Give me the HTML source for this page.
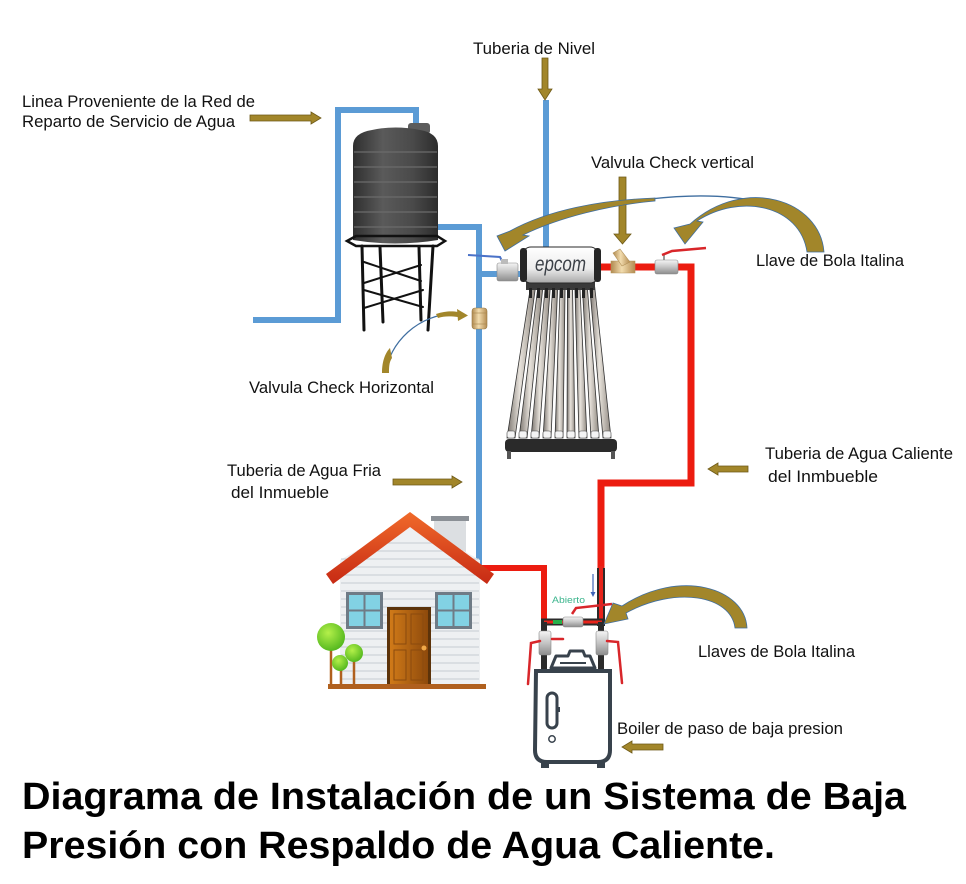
<!DOCTYPE html>
<html><head><meta charset="utf-8">
<style>
html,body{margin:0;padding:0;background:#fff;}
svg{display:block;}
text{font-family:"Liberation Sans",sans-serif;}
</style></head>
<body>
<svg width="966" height="884" viewBox="0 0 966 884" xmlns="http://www.w3.org/2000/svg">
<defs>
<linearGradient id="tg" x1="0" x2="1" y1="0" y2="0">
<stop offset="0" stop-color="#2f2f2f"/><stop offset="0.35" stop-color="#5a5a5a"/><stop offset="0.7" stop-color="#4a4a4a"/><stop offset="1" stop-color="#2c2c2c"/>
</linearGradient>
<linearGradient id="hg" x1="0" x2="0" y1="0" y2="1">
<stop offset="0" stop-color="#ffffff"/><stop offset="0.6" stop-color="#ececec"/><stop offset="1" stop-color="#a9a9a9"/>
</linearGradient>
<linearGradient id="tube" x1="0" x2="1" y1="0" y2="0">
<stop offset="0" stop-color="#77716b"/><stop offset="0.45" stop-color="#e8e3dc"/><stop offset="1" stop-color="#8e877f"/>
</linearGradient>
<linearGradient id="brass" x1="0" x2="1" y1="0" y2="0">
<stop offset="0" stop-color="#b08a50"/><stop offset="0.45" stop-color="#f2dcae"/><stop offset="1" stop-color="#b48c52"/>
</linearGradient>
<linearGradient id="silver" x1="0" x2="0" y1="0" y2="1">
<stop offset="0" stop-color="#f5f5f5"/><stop offset="0.5" stop-color="#c4c4c4"/><stop offset="1" stop-color="#8c8c8c"/>
</linearGradient>
<linearGradient id="roof" x1="0" x2="0" y1="0" y2="1">
<stop offset="0" stop-color="#f06a2a"/><stop offset="1" stop-color="#c72a14"/>
</linearGradient>
<linearGradient id="door" x1="0" x2="1" y1="0" y2="0">
<stop offset="0" stop-color="#d07a18"/><stop offset="1" stop-color="#8e4a0c"/>
</linearGradient>
<radialGradient id="tree" cx="0.4" cy="0.35" r="0.7">
<stop offset="0" stop-color="#b4f04a"/><stop offset="1" stop-color="#4fb51c"/>
</radialGradient>
</defs>
<rect width="966" height="884" fill="#fff"/>

<!-- BLUE PIPES -->
<g fill="none" stroke="#5b9bd5" stroke-width="6" stroke-linejoin="miter">
<polyline points="253,320 338,320 338,110 416,110 416,128"/>
<polyline points="435,227 479,227 479,568"/>
<line x1="479" y1="274" x2="524" y2="274"/>
<line x1="546" y1="100" x2="546" y2="250"/>
</g>

<!-- RED PIPES -->
<g fill="none" stroke="#ec1c10" stroke-width="7" stroke-linejoin="miter">
<polyline points="597,267 691,267 691,483 601,483 601,572"/>
<polyline points="479,568 544,568 544,623" stroke-width="6"/>
</g>

<!-- WATER TANK -->
<g>
<rect x="408" y="123" width="22" height="11" rx="3" fill="#5c5c5c"/>
<path d="M353,146 Q353,133 372,130 Q395,125 420,130 Q438,133 438,146 L438,240 Q395,247 353,240 Z" fill="url(#tg)"/>
<g stroke="#6b6b6b" stroke-width="1.2">
<line x1="354" y1="152" x2="437" y2="152"/><line x1="354" y1="167" x2="437" y2="167"/>
<line x1="354" y1="182" x2="437" y2="182"/><line x1="354" y1="197" x2="437" y2="197"/>
<line x1="354" y1="212" x2="437" y2="212"/><line x1="354" y1="227" x2="437" y2="227"/>
</g>
<g stroke="#111" stroke-width="3" fill="none" stroke-linecap="round">
<path d="M347,241 L356,236 L437,236 L445,241 L437,246 L356,246 Z" stroke-width="2.5"/>
<line x1="362" y1="246" x2="364" y2="330"/>
<line x1="380" y1="247" x2="383" y2="322"/>
<line x1="419" y1="247" x2="421" y2="320"/>
<line x1="433" y1="246" x2="428" y2="330"/>
<g stroke-width="2">
<line x1="364" y1="262" x2="421" y2="281"/><line x1="364" y1="283" x2="421" y2="265"/>
<line x1="364" y1="290" x2="423" y2="307"/><line x1="364" y1="308" x2="423" y2="290"/>
</g>
</g>
</g>

<!-- SOLAR HEATER -->
<g>
<g stroke="#333" stroke-width="0.8">
<polygon points="530.5,287 535.5,287 515,438 507,438" fill="url(#tube)"/>
<polygon points="537.9,287 542.9,287 527,438 519,438" fill="url(#tube)"/>
<polygon points="545.3,287 550.3,287 539,438 531,438" fill="url(#tube)"/>
<polygon points="552.7,287 557.7,287 551,438 543,438" fill="url(#tube)"/>
<polygon points="560.1,287 565.1,287 563,438 555,438" fill="url(#tube)"/>
<polygon points="567.5,287 572.5,287 575,438 567,438" fill="url(#tube)"/>
<polygon points="574.9,287 579.9,287 587,438 579,438" fill="url(#tube)"/>
<polygon points="582.3,287 587.3,287 599,438 591,438" fill="url(#tube)"/>
<polygon points="589.7,287 594.7,287 611,438 603,438" fill="url(#tube)"/>
</g>
<g fill="#f4f4f4" stroke="#444" stroke-width="0.6">
<rect x="507" y="431" width="8" height="7" rx="2"/><rect x="519" y="431" width="8" height="7" rx="2"/>
<rect x="531" y="431" width="8" height="7" rx="2"/><rect x="543" y="431" width="8" height="7" rx="2"/>
<rect x="555" y="431" width="8" height="7" rx="2"/><rect x="567" y="431" width="8" height="7" rx="2"/>
<rect x="579" y="431" width="8" height="7" rx="2"/><rect x="591" y="431" width="8" height="7" rx="2"/>
<rect x="603" y="431" width="8" height="7" rx="2"/>
</g>
<rect x="505" y="439" width="112" height="13" rx="4" fill="#2a2a2a"/>
<rect x="507" y="451" width="4" height="8" fill="#555"/>
<rect x="611" y="451" width="4" height="8" fill="#555"/>
<rect x="526" y="279" width="69" height="11" fill="#3a3a3a"/>
<g fill="#222"><rect x="529" y="288" width="3" height="10"/><rect x="537" y="288" width="3" height="10"/><rect x="545" y="288" width="3" height="10"/><rect x="552" y="288" width="3" height="10"/><rect x="560" y="288" width="3" height="10"/><rect x="567" y="288" width="3" height="10"/><rect x="575" y="288" width="3" height="10"/><rect x="582" y="288" width="3" height="10"/><rect x="590" y="288" width="3" height="10"/></g>
<rect x="522" y="247" width="77" height="36" rx="9" fill="url(#hg)" stroke="#2a2a2a" stroke-width="1"/>
<rect x="520" y="248" width="7" height="34" rx="3" fill="#262626"/>
<rect x="594" y="248" width="7" height="34" rx="3" fill="#262626"/>
<text x="535" y="271" font-size="21" font-style="italic" fill="#3b4047" textLength="51" lengthAdjust="spacingAndGlyphs">epcom</text>
</g>

<!-- VALVES NEAR HEATER -->
<g>
<polyline points="468,255 500,257 503,263" fill="none" stroke="#4a72c8" stroke-width="2"/>
<rect x="497" y="263" width="21" height="18" rx="2" fill="url(#silver)" stroke="#888" stroke-width="0.6"/>
<rect x="501" y="259" width="7" height="5" fill="#bbb"/>
<rect x="472" y="308" width="15" height="21" rx="3" fill="url(#brass)" stroke="#9a7a44" stroke-width="0.6"/>
<g stroke="#a7854c" stroke-width="0.6"><line x1="472" y1="313" x2="487" y2="313"/><line x1="472" y1="324" x2="487" y2="324"/></g>
<path d="M611,261 L635,261 L635,273 L611,273 Z" fill="url(#brass)" stroke="#b29158" stroke-width="0.6"/>
<path d="M613,253 L620,249 L630,262 L622,266 Z" fill="url(#brass)" stroke="#b29158" stroke-width="0.6"/>
<line x1="664" y1="262" x2="664" y2="254" stroke="#999" stroke-width="2"/>
<polyline points="662,255 672,251 706,248" fill="none" stroke="#d8262a" stroke-width="2.5"/>
<rect x="655" y="260" width="23" height="14" rx="2" fill="url(#silver)" stroke="#888" stroke-width="0.6"/>
</g>

<!-- HOUSE -->
<g>
<rect x="434" y="520" width="32" height="36" fill="#dcdfe2"/>
<rect x="431" y="516" width="38" height="5" fill="#8b9096"/>
<polygon points="340,560 410,521 480,560 480,685 340,685" fill="#eef0f2"/>
<g stroke="#c6cbd1" stroke-width="1">
<line x1="372" y1="543" x2="448" y2="543"/><line x1="357" y1="551" x2="463" y2="551"/>
<line x1="341" y1="559" x2="479" y2="559"/><line x1="341" y1="567" x2="479" y2="567"/>
<line x1="341" y1="575" x2="479" y2="575"/><line x1="341" y1="583" x2="479" y2="583"/>
<line x1="341" y1="591" x2="479" y2="591"/><line x1="341" y1="599" x2="479" y2="599"/>
<line x1="341" y1="607" x2="479" y2="607"/><line x1="341" y1="615" x2="479" y2="615"/>
<line x1="341" y1="623" x2="479" y2="623"/><line x1="341" y1="631" x2="479" y2="631"/>
<line x1="341" y1="639" x2="479" y2="639"/><line x1="341" y1="647" x2="479" y2="647"/>
<line x1="341" y1="655" x2="479" y2="655"/><line x1="341" y1="663" x2="479" y2="663"/>
<line x1="341" y1="671" x2="479" y2="671"/><line x1="341" y1="679" x2="479" y2="679"/>
</g>
<polygon points="326,574 410,512 494,574 487,584 410,527 333,584" fill="url(#roof)"/>
<rect x="346" y="592" width="37" height="37" fill="#6f7b86"/>
<g fill="#82d2e4"><rect x="349" y="595" width="14.5" height="14.5"/><rect x="365.5" y="595" width="14.5" height="14.5"/><rect x="349" y="611.5" width="14.5" height="14.5"/><rect x="365.5" y="611.5" width="14.5" height="14.5"/></g>
<rect x="435" y="592" width="37" height="37" fill="#6f7b86"/>
<g fill="#82d2e4"><rect x="438" y="595" width="14.5" height="14.5"/><rect x="454.5" y="595" width="14.5" height="14.5"/><rect x="438" y="611.5" width="14.5" height="14.5"/><rect x="454.5" y="611.5" width="14.5" height="14.5"/></g>
<rect x="387" y="607" width="44" height="79" fill="#5c330a"/>
<rect x="390" y="610" width="38" height="76" fill="url(#door)"/>
<g fill="none" stroke="#8a4a0e" stroke-width="1"><rect x="394" y="614" width="12" height="30"/><rect x="411" y="614" width="12" height="30"/><rect x="394" y="650" width="12" height="30"/><rect x="411" y="650" width="12" height="30"/></g>
<circle cx="424" cy="648" r="2.5" fill="#f0a848"/>
<rect x="328" y="684" width="158" height="5" fill="#b0601e"/>
<g stroke="#b0601e" stroke-width="2.5"><line x1="331" y1="648" x2="331" y2="686"/><line x1="341" y1="668" x2="341" y2="686"/><line x1="354" y1="660" x2="354" y2="686"/></g>
<circle cx="331" cy="637" r="14" fill="url(#tree)"/>
<circle cx="354" cy="653" r="9" fill="url(#tree)"/>
<circle cx="340" cy="663" r="8" fill="url(#tree)"/>
</g>

<!-- BOILER AREA -->
<g>
<line x1="601" y1="568" x2="601" y2="626" stroke="#2b2b2b" stroke-width="8"/>
<line x1="601" y1="566" x2="601" y2="624" stroke="#e8231a" stroke-width="4"/>
<line x1="541" y1="622" x2="605" y2="622" stroke="#2b2b2b" stroke-width="7"/>
<line x1="544" y1="622" x2="602" y2="622" stroke="#e8231a" stroke-width="3"/>
<line x1="553" y1="622" x2="562" y2="622" stroke="#27b04a" stroke-width="4"/>
<line x1="544" y1="622" x2="544" y2="672" stroke="#2b2b2b" stroke-width="6"/>
<line x1="601" y1="622" x2="601" y2="672" stroke="#2b2b2b" stroke-width="6"/>
<polyline points="572,614 576,608 612,604" fill="none" stroke="#d8262a" stroke-width="2.5"/>
<rect x="563" y="617" width="20" height="10" rx="2" fill="url(#silver)" stroke="#888" stroke-width="0.6"/>
<text x="552" y="603" font-size="9" fill="#3cb58d" textLength="33" lengthAdjust="spacingAndGlyphs">Abierto</text>
<line x1="593" y1="574" x2="593" y2="593" stroke="#3d63b8" stroke-width="1.2"/>
<polygon points="590.5,592 595.5,592 593,597" fill="#3d63b8"/>
<rect x="539" y="631" width="12" height="24" rx="2" fill="url(#silver)" stroke="#888" stroke-width="0.6"/>
<rect x="596" y="631" width="12" height="24" rx="2" fill="url(#silver)" stroke="#888" stroke-width="0.6"/>
<g fill="none" stroke="#d8262a" stroke-width="2.5" stroke-linecap="round">
<polyline points="540,641 531,643 528,684"/>
<line x1="552" y1="639" x2="563" y2="639"/>
<polyline points="607,641 618,642 622,683"/>
</g>
<path d="M570,651 L583,651 L585,656 L590,656 L595,668 L551,668 L556,656 L568,656 Z" fill="#fff" stroke="#38424c" stroke-width="3" stroke-linejoin="round"/>
<line x1="560" y1="663" x2="586" y2="663" stroke="#38424c" stroke-width="2"/>
<path d="M536,671 L610,671 L610,750 Q610,762 598,762 L547,762 Q535,762 535,750 Z" fill="#fff" stroke="#38424c" stroke-width="4"/>
<rect x="541" y="762" width="8" height="6" fill="#38424c"/>
<rect x="597" y="762" width="8" height="6" fill="#38424c"/>
<rect x="547" y="693" width="10" height="35" rx="5" fill="none" stroke="#38424c" stroke-width="3"/>
<rect x="557" y="707" width="3" height="5" fill="#38424c"/>
<circle cx="552" cy="739" r="3.2" fill="none" stroke="#38424c" stroke-width="1.5"/>
</g>

<!-- STRAIGHT ARROWS -->
<g fill="#a2862a" stroke="#6e5a17" stroke-width="0.8">
<polygon points="250,115 311,115 311,112 321,118 311,124 311,121 250,121"/>
<polygon points="393,479 452,479 452,476 462,482 452,488 452,485 393,485"/>
<polygon points="748,466 718,466 718,463 708,469 718,475 718,472 748,472"/>
<polygon points="663,744 632,744 632,741 622,747 632,753 632,750 663,750"/>
<polygon points="542,58 548,58 548,89 552,89 545,100 538,89 542,89"/>
<polygon points="619,177 626,177 626,234 631,234 622.5,244 614,234 619,234"/>
</g>

<!-- CURVED ARROWS -->
<path d="M822,250 C810,200 730,190 650,199" fill="none" stroke="#3f6ea0" stroke-width="1.3"/>
<g fill="#a2862a" stroke="#3f6ea0" stroke-width="0.8">
<path d="M655,198 C600,200 548,210 510,231 L497,236 L505,251 L529,236 L523,235 C560,217 610,205 655,201 Z"/>
<path d="M824,252 C820,200 745,175 690,224 L674,228 L685,244 L703,222 L697,221 C740,193 800,205 807,252 Z"/>
<path d="M747,628 C745,588 680,568 622,606 L613,603 L604,624 L628,619 L626,613 C675,586 731,595 735,628 Z"/>
</g>
<path d="M386,373 C388,345 418,312 458,314" fill="none" stroke="#3f6ea0" stroke-width="1.2"/>
<path d="M382,373 C382,360 386,352 390,348 L392,358 C389,362 389,368 389,373 Z" fill="#a2862a"/>
<path d="M436,314 C445,311 452,311 458,312 L458,317 C450,316 444,316 438,318 Z" fill="#a2862a"/>
<polygon points="457,309 468,315.5 458,321" fill="#a2862a"/>

<!-- LABELS -->
<g font-size="17" fill="#111">
<text x="473" y="54" textLength="122" lengthAdjust="spacingAndGlyphs">Tuberia de Nivel</text>
<text x="22" y="107" textLength="233" lengthAdjust="spacingAndGlyphs">Linea Proveniente de la Red de</text>
<text x="22" y="127" textLength="213" lengthAdjust="spacingAndGlyphs">Reparto de Servicio de Agua</text>
<text x="591" y="168" textLength="163" lengthAdjust="spacingAndGlyphs">Valvula Check vertical</text>
<text x="756" y="266" textLength="148" lengthAdjust="spacingAndGlyphs">Llave de Bola Italina</text>
<text x="249" y="393" textLength="185" lengthAdjust="spacingAndGlyphs">Valvula Check Horizontal</text>
<text x="227" y="476" textLength="154" lengthAdjust="spacingAndGlyphs">Tuberia de Agua Fria</text>
<text x="231" y="498" textLength="98" lengthAdjust="spacingAndGlyphs">del Inmueble</text>
<text x="765" y="459" textLength="188" lengthAdjust="spacingAndGlyphs">Tuberia de Agua Caliente</text>
<text x="768" y="482" textLength="110" lengthAdjust="spacingAndGlyphs">del Inmbueble</text>
<text x="698" y="657" textLength="157" lengthAdjust="spacingAndGlyphs">Llaves de Bola Italina</text>
<text x="617" y="734" textLength="226" lengthAdjust="spacingAndGlyphs">Boiler de paso de baja presion</text>
</g>

<!-- TITLE -->
<g font-size="38" font-weight="bold" fill="#000">
<text x="22" y="809" textLength="884" lengthAdjust="spacingAndGlyphs">Diagrama de Instalación de un Sistema de Baja</text>
<text x="22" y="858" textLength="753" lengthAdjust="spacingAndGlyphs">Presión con Respaldo de Agua Caliente.</text>
</g>
</svg>
</body></html>
